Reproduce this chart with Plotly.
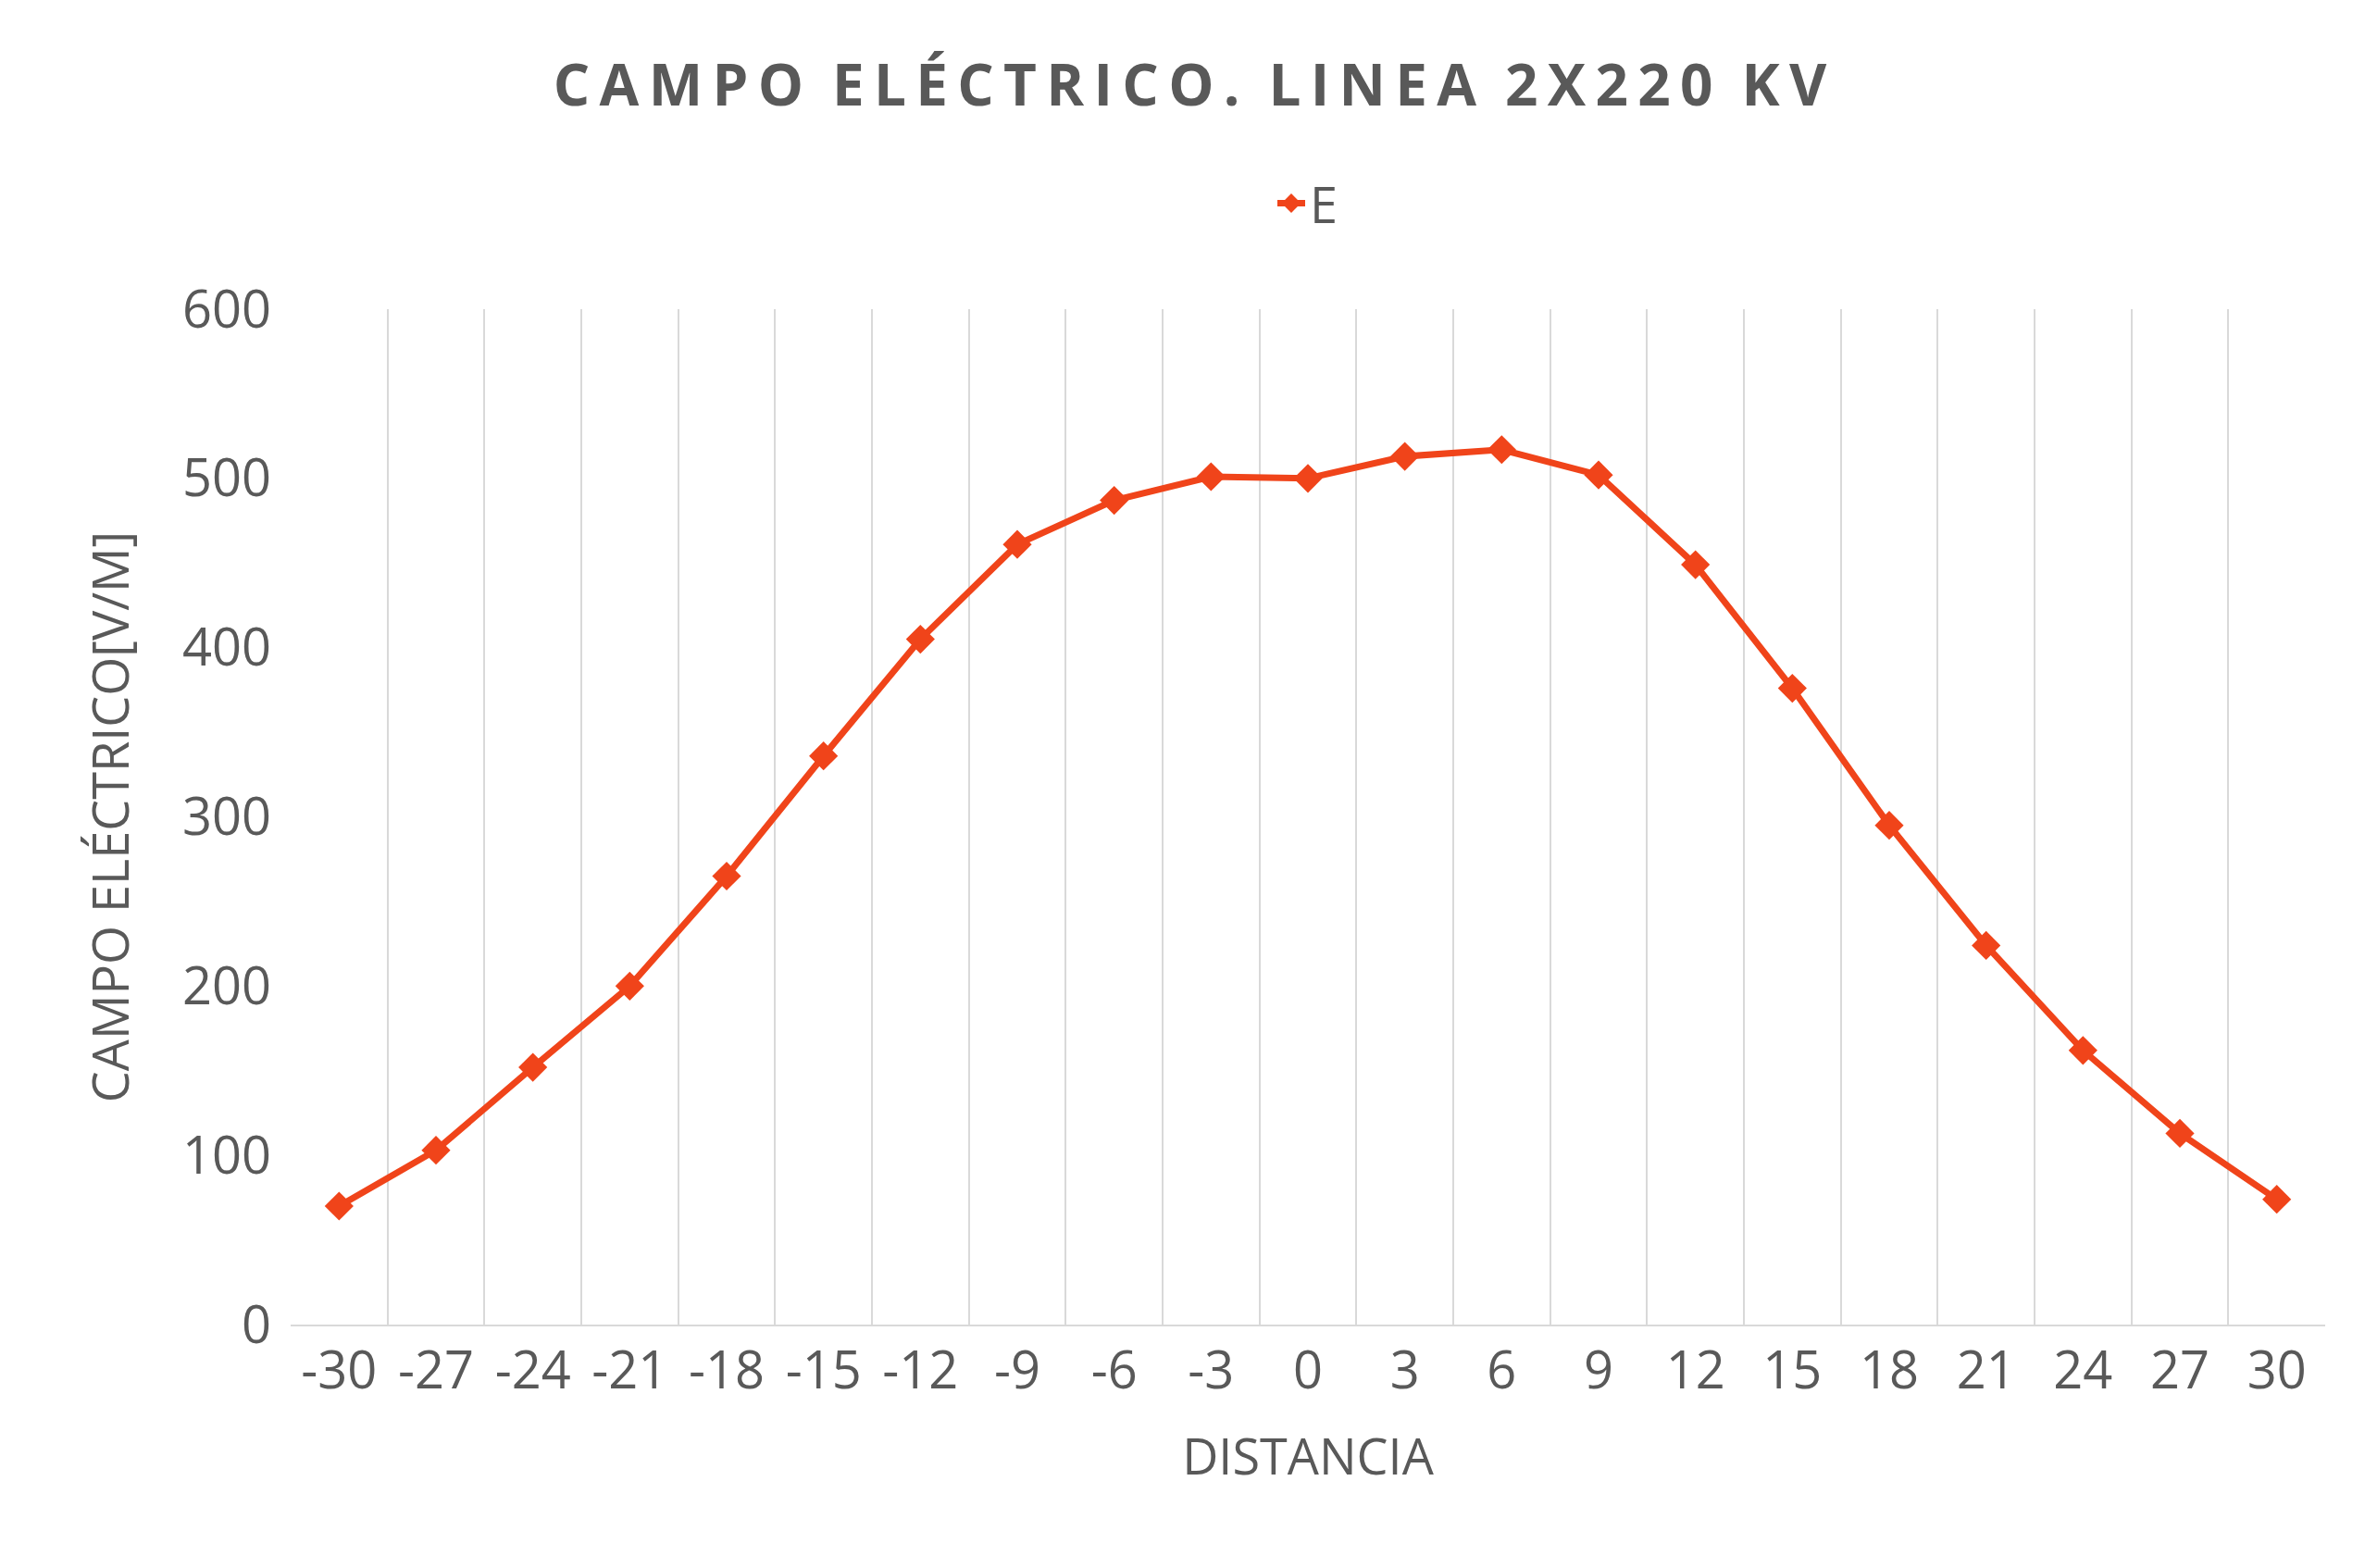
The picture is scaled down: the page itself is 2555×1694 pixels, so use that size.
import plotly.graph_objects as go

distancia = [-30, -27, -24, -21, -18, -15, -12, -9, -6, -3, 0, 3, 6, 9, 12, 15, 18, 21, 24, 27, 30]
campo = [70, 103, 152, 200, 265, 336, 405, 461, 487, 501, 500, 513, 517, 502, 449, 376, 295, 224, 162, 113, 74]
labels = [str(d) for d in distancia]

grey = "#595959"
font_family = "Open Sans, Liberation Sans, sans-serif"

title_text = "CAMPO ELÉCTRICO. LINEA 2X220 KV"
spaced = "\u2009".join(title_text).replace("\u2009 \u2009", "\u2002")

fig = go.Figure()
fig.add_trace(go.Scatter(
    x=labels, y=campo, name="E", mode="lines+markers",
    line=dict(color="#F0441A", width=7),
    marker=dict(symbol="diamond", size=24, color="#F0441A"),
))

fig.update_layout(
    width=2555, height=1694,
    paper_bgcolor="white", plot_bgcolor="white",
    margin=dict(l=306, r=51, t=326, b=271),
    font=dict(family=font_family, color=grey, size=54),
    title=dict(
        text=f"<b>{spaced}</b>",
        x=0.5, xanchor="center", y=0.95, yanchor="middle",
        font=dict(size=62, color=grey),
    ),
    legend=dict(orientation="h", x=0.5, xanchor="center", y=1.104, yanchor="middle",
                font=dict(size=54, color=grey)),
    showlegend=True,
)
fig.update_xaxes(
    type="category", tickson="boundaries", range=[-0.5, 20.5],
    showgrid=True, gridcolor="#D9D9D9", gridwidth=2,
    showline=True, linecolor="#D9D9D9", linewidth=2, ticks="",
    tickfont=dict(size=56, color=grey),
    title=dict(text="DISTANCIA", font=dict(size=54, color=grey), standoff=40),
)
fig.update_yaxes(
    range=[0, 600], dtick=100, showgrid=False, zeroline=False, showline=False,
    tickfont=dict(size=56, color=grey), ticklabelstandoff=20,
    title=dict(text="CAMPO ELÉCTRICO[V/M]", font=dict(size=54, color=grey), standoff=40),
)

fig.write_html("out.html")
